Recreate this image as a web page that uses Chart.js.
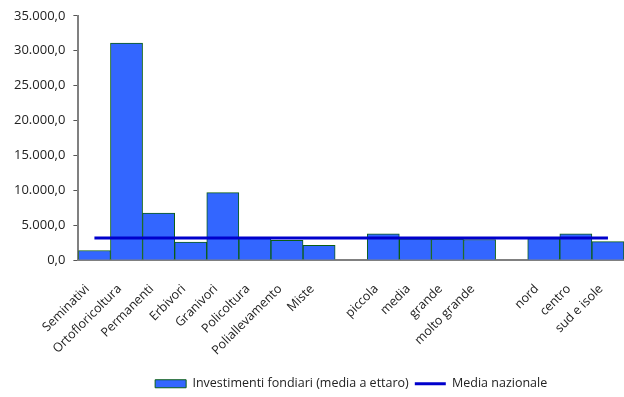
<!DOCTYPE html>
<html>
<head>
<meta charset="utf-8">
<script src="https://cdn.jsdelivr.net/npm/chart.js@4.4.0/dist/chart.umd.min.js"></script>
<style>
  html, body { margin: 0; padding: 0; background: #fff; }
  #wrap { width: 624px; height: 397px; }
</style>
</head>
<body>
<div id="wrap"><canvas id="chart"></canvas></div>
<script>
// Categorie (con spazi vuoti tra i gruppi)
const categorie = [
  'Seminativi', 'Ortofloricoltura', 'Permanenti', 'Erbivori', 'Granivori',
  'Policoltura', 'Poliallevamento', 'Miste', '',
  'piccola', 'media', 'grande', 'molto grande', '',
  'nord', 'centro', 'sud e isole'
];

// Investimenti fondiari (media a ettaro)
const investimenti = [
  1370, 31100, 6750, 2590, 9670,
  3150, 2830, 2120, null,
  3780, 3050, 3000, 2950, null,
  3100, 3780, 2650
];

// Media nazionale
const mediaNazionale = 3160;
const mediaValori = categorie.map(() => mediaNazionale);

const yTicks = [0, 5000, 10000, 15000, 20000, 25000, 30000, 35000];

// formato italiano: 35.000,0
function formatIt(v) {
  const parts = v.toFixed(1).split('.');
  parts[0] = parts[0].replace(/\B(?=(\d{3})+(?!\d))/g, '.');
  return parts.join(',');
}

const fontFam = '"Open Sans", sans-serif';

const ctx = document.getElementById('chart').getContext('2d');
const chart = new Chart(ctx, {
  data: {
    labels: categorie,
    datasets: [
      {
        type: 'bar',
        label: 'Investimenti fondiari (media a ettaro)',
        data: investimenti,
        backgroundColor: '#3366FF',
        borderColor: '#0B5E14',
        borderWidth: 1,
        barPercentage: 1,
        categoryPercentage: 1,
        pointStyle: 'rect',
        order: 2
      },
      {
        type: 'line',
        label: 'Media nazionale',
        data: mediaValori,
        borderColor: '#0000CC',
        backgroundColor: '#0000CC',
        borderWidth: 3,
        pointRadius: 0,
        pointStyle: 'line',
        fill: false,
        order: 1
      }
    ]
  },
  options: {
    responsive: true,
    maintainAspectRatio: false,
    animation: false,
    layout: { padding: { top: 1, right: 0, left: 6, bottom: -3 } },
    plugins: {
      tooltip: { enabled: false },
      legend: {
        position: 'bottom',
        fullSize: false,
        labels: {
          usePointStyle: true,
          pointStyleWidth: 31,
          boxWidth: 31,
          boxHeight: 8,
          padding: 6,
          color: '#222',
          font: { family: fontFam, size: 12.5 },
          sort: (a, b) => a.datasetIndex - b.datasetIndex
        }
      }
    },
    scales: {
      x: {
        offset: true,
        grid: { display: false },
        border: { display: true, color: '#808080', width: 2 },
        afterFit: s => { s.paddingRight = 0; },
        ticks: {
          color: '#222',
          font: { family: fontFam, size: 12.5 },
          maxRotation: 45,
          minRotation: 45,
          autoSkip: false,
          padding: 13.5,
          labelOffset: -7
        }
      },
      y: {
        min: 0,
        max: 35000,
        afterBuildTicks: axis => { axis.ticks = yTicks.map(v => ({ value: v })); },
        grid: {
          display: true,
          drawOnChartArea: false,
          drawTicks: true,
          tickLength: 5,
          color: '#555'
        },
        border: { display: true, color: '#808080', width: 2 },
        ticks: {
          color: '#222',
          font: { family: fontFam, size: 13 },
          padding: 8,
          callback: v => formatIt(v)
        }
      }
    }
  }
});
</script>
</body>
</html>
